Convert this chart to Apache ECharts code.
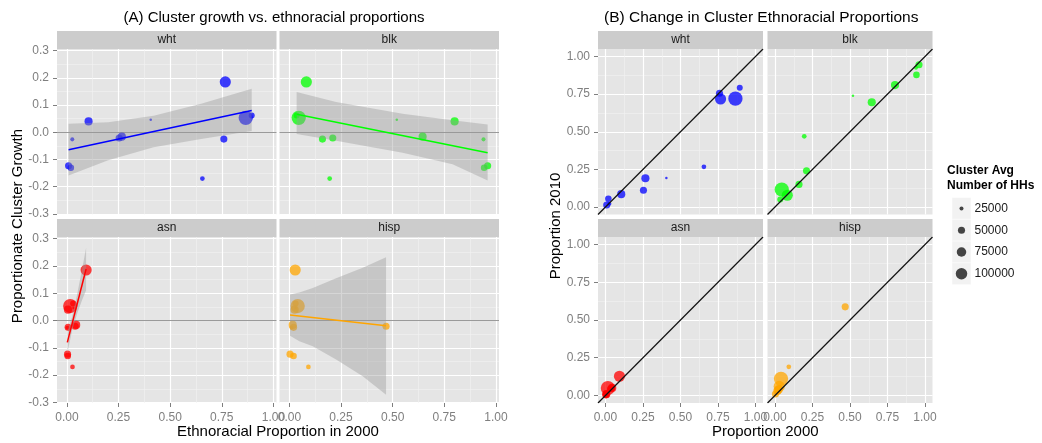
<!DOCTYPE html>
<html>
<head>
<meta charset="utf-8">
<script src="https://cdn.jsdelivr.net/npm/echarts@6/dist/echarts.min.js"></script>
<style>
  html, body { margin: 0; padding: 0; background: #ffffff; }
  #chart { width: 1042px; height: 443px; }
</style>
</head>
<body>
<div id="chart"></div>
<script>
// ---- Cluster values (one entry per cluster, same order in every array) ----
const hhSize   = [95000, 140000, 40000, 60000, 16000, 50000, 60000, 25000, 50000, 50000, 45000, 30000];
const growth   = [0.185, 0.053, 0.062, 0.040, 0.046, -0.021, -0.016, -0.026, -0.025, -0.123, -0.130, -0.170];

const wht2000  = [0.767, 0.866, 0.895, 0.105, 0.406, 0.253, 0.266, 0.026, 0.760, 0.008, 0.019, 0.656];
const wht2010  = [0.718, 0.720, 0.793, 0.085, 0.193, 0.111, 0.191, 0.022, 0.756, 0.013, 0.055, 0.267];
const blk2000  = [0.082, 0.045, 0.035, 0.800, 0.520, 0.210, 0.645, 0.940, 0.160, 0.960, 0.943, 0.195];
const blk2010  = [0.078, 0.116, 0.050, 0.810, 0.740, 0.240, 0.696, 0.925, 0.150, 0.945, 0.878, 0.470];
const asn2000  = [0.093, 0.016, 0.030, 0.005, 0.032, 0.040, 0.045, 0.002, 0.006, 0.003, 0.004, 0.027];
const asn2010  = [0.127, 0.049, 0.045, 0.008, 0.040, 0.050, 0.050, 0.004, 0.012, 0.004, 0.006, 0.040];
const hisp2000 = [0.028, 0.040, 0.030, 0.025, 0.030, 0.468, 0.016, 0.010, 0.020, 0.003, 0.020, 0.092];
const hisp2010 = [0.060, 0.110, 0.050, 0.040, 0.060, 0.587, 0.030, 0.020, 0.040, 0.010, 0.030, 0.190];

// ---- Linear fits of growth on 2000 proportion, with confidence band ----
const whtFitX   = [0.008, 0.895];
const whtFitY   = [-0.064, 0.080];
const whtBandX  = [0.008, 0.200, 0.420, 0.650, 0.895];
const whtBandLo = [-0.159, -0.103, -0.055, -0.025, 0.005];
const whtBandHi = [0.031, 0.037, 0.061, 0.105, 0.160];

const blkFitX   = [0.035, 0.960];
const blkFitY   = [0.066, -0.075];
const blkBandX  = [0.035, 0.226, 0.548, 0.790, 0.960];
const blkBandLo = [-0.006, -0.031, -0.075, -0.117, -0.177];
const blkBandHi = [0.148, 0.111, 0.068, 0.044, 0.029];

const asnFitX   = [0.002, 0.093];
const asnFitY   = [-0.080, 0.189];
const asnBandX  = [0.002, 0.025, 0.050, 0.075, 0.093];
const asnBandLo = [-0.120, -0.037, 0.027, 0.078, 0.111];
const asnBandHi = [-0.040, 0.013, 0.097, 0.194, 0.267];

const hispFitX   = [0.003, 0.468];
const hispFitY   = [0.020, -0.019];
const hispBandX  = [0.003, 0.048, 0.113, 0.226, 0.355, 0.468];
const hispBandLo = [-0.056, -0.076, -0.094, -0.143, -0.204, -0.272];
const hispBandHi = [0.095, 0.103, 0.119, 0.155, 0.193, 0.232];

// ---- Facets, ticks and legend breaks ----
const facetNames   = ['wht', 'blk', 'asn', 'hisp'];
const facetColors  = ['#0000ff', '#00ff00', '#ff0000', '#ffa500'];
const growthTicks  = [-0.3, -0.2, -0.1, 0.0, 0.1, 0.2, 0.3];
const propTicks    = [0, 0.25, 0.5, 0.75, 1];
const legendBreaks = [25000, 50000, 75000, 100000];

const facets = [
  { name: facetNames[0], p2000: wht2000,  p2010: wht2010,  fitX: whtFitX,  fitY: whtFitY,  bx: whtBandX,  lo: whtBandLo,  hi: whtBandHi },
  { name: facetNames[1], p2000: blk2000,  p2010: blk2010,  fitX: blkFitX,  fitY: blkFitY,  bx: blkBandX,  lo: blkBandLo,  hi: blkBandHi },
  { name: facetNames[2], p2000: asn2000,  p2010: asn2010,  fitX: asnFitX,  fitY: asnFitY,  bx: asnBandX,  lo: asnBandLo,  hi: asnBandHi },
  { name: facetNames[3], p2000: hisp2000, p2010: hisp2010, fitX: hispFitX, fitY: hispFitY, bx: hispBandX, lo: hispBandLo, hi: hispBandHi }
];

// ---- Layout ----
const FONT = '"Liberation Sans", Arial, Helvetica, sans-serif';
const A_LEFT = [57, 279.5], A_W = 219.5;
const B_LEFT = [598, 767.5], B_W = 165;
const ROW_TOP = [49, 237], ROW_H = [165.5, 166];
const STRIP_H = 18;

const GROWTH_RANGE = [-0.302, 0.306];
const PROP_A_RANGE = [-0.048, 1.015];
const PROP_B_RANGE = [-0.05, 1.05];

function midpoints(t) {
  const out = [];
  for (let i = 0; i < t.length - 1; i++) out.push((t[i] + t[i + 1]) / 2);
  return out;
}
const growthMinor = midpoints(growthTicks);
const propMinor = midpoints(propTicks);

// symbol diameter in px for an average household count
function dotSize(v) { return Math.max(2, 0.0475 * Math.sqrt(v) - 3.5); }

const grids = [], xAxes = [], yAxes = [], series = [], graphics = [];

function addAxes(g, xr, yr, xMajor, xMinor, yMajor, yMinor, showX, showY, xFmt, yFmt) {
  const mk = (gIdx, range, major, fmt, show, pos, margin) => ({
    type: 'value', gridIndex: gIdx, min: range[0], max: range[1], position: pos,
    axisLine: { show: false, onZero: false },
    axisTick: { show: show, length: 4, customValues: major, lineStyle: { color: '#7f7f7f', width: 1 } },
    axisLabel: { show: show, customValues: major, formatter: fmt, color: '#7f7f7f', fontSize: 12, fontFamily: FONT, margin: margin },
    splitLine: { show: true, lineStyle: { color: '#ffffff', width: 1.2 } }
  });
  const mkMinor = (gIdx, range, minor, pos) => ({
    type: 'value', gridIndex: gIdx, min: range[0], max: range[1], position: pos,
    axisLine: { show: false, onZero: false },
    axisTick: { show: false, customValues: minor },
    axisLabel: { show: false },
    splitLine: { show: true, lineStyle: { color: '#f2f2f2', width: 0.6 } }
  });
  xAxes.push(mk(g, xr, xMajor, xFmt, showX, 'bottom', 9), mkMinor(g, xr, xMinor, 'top'));
  yAxes.push(mk(g, yr, yMajor, yFmt, showY, 'left', 8), mkMinor(g, yr, yMinor, 'right'));
}

function addStrip(left, top, width, label) {
  graphics.push({
    type: 'rect', silent: true,
    shape: { x: left, y: top - STRIP_H, width: width, height: STRIP_H },
    style: { fill: '#cccccc' }
  });
  graphics.push({
    type: 'text', silent: true, x: left + width / 2, y: top - STRIP_H / 2,
    style: { text: label, font: '12px ' + FONT, fill: '#1a1a1a', textAlign: 'center', textVerticalAlign: 'middle' }
  });
}

const fmt1 = v => v.toFixed(1);
const fmt2 = v => v.toFixed(2);

// ---- Panel A: growth vs 2000 proportion ----
facets.forEach((f, i) => {
  const col = i % 2, row = Math.floor(i / 2);
  const g = grids.length;
  grids.push({ left: A_LEFT[col], top: ROW_TOP[row], width: A_W, height: ROW_H[row],
               show: true, backgroundColor: '#e5e5e5', borderWidth: 0, containLabel: false });
  addAxes(g, PROP_A_RANGE, GROWTH_RANGE, propTicks, propMinor, growthTicks, growthMinor,
          row === 1, col === 0, fmt2, fmt1);
  addStrip(A_LEFT[col], ROW_TOP[row], A_W, f.name);
  const color = facetColors[i];

  series.push({
    type: 'scatter', xAxisIndex: 2 * g, yAxisIndex: 2 * g, z: 2, silent: true,
    data: f.p2000.map((x, k) => [x, growth[k], hhSize[k]]),
    symbolSize: d => dotSize(d[2]),
    itemStyle: { color: color, opacity: 0.75 },
    markLine: {
      silent: true, symbol: 'none', z: 1, animation: false,
      label: { show: false },
      lineStyle: { color: '#9a9a9a', width: 1, type: 'solid' },
      data: [{ yAxis: 0 }]
    }
  });
  series.push({
    type: 'custom', xAxisIndex: 2 * g, yAxisIndex: 2 * g, z: 3, silent: true,
    data: f.bx.map((x, k) => [x, f.lo[k], f.hi[k]]),
    renderItem: (params, api) => {
      if (params.dataIndex !== 0) return null;
      const upper = f.bx.map((x, k) => api.coord([x, f.hi[k]]));
      const lower = f.bx.map((x, k) => api.coord([x, f.lo[k]])).reverse();
      return { type: 'polygon', shape: { points: upper.concat(lower) },
               style: { fill: 'rgba(153,153,153,0.4)' } };
    }
  });
  series.push({
    type: 'line', xAxisIndex: 2 * g, yAxisIndex: 2 * g, z: 4, silent: true,
    data: f.fitX.map((x, k) => [x, f.fitY[k]]),
    symbol: 'none', lineStyle: { color: color, width: 1.5 }
  });
});

// ---- Panel B: 2010 proportion vs 2000 proportion ----
facets.forEach((f, i) => {
  const col = i % 2, row = Math.floor(i / 2);
  const g = grids.length;
  grids.push({ left: B_LEFT[col], top: ROW_TOP[row], width: B_W, height: ROW_H[row],
               show: true, backgroundColor: '#e5e5e5', borderWidth: 0, containLabel: false });
  addAxes(g, PROP_B_RANGE, PROP_B_RANGE, propTicks, propMinor, propTicks, propMinor,
          row === 1, col === 0, fmt2, fmt2);
  addStrip(B_LEFT[col], ROW_TOP[row], B_W, f.name);

  series.push({
    type: 'scatter', xAxisIndex: 2 * g, yAxisIndex: 2 * g, z: 2, silent: true,
    data: f.p2000.map((x, k) => [x, f.p2010[k], hhSize[k]]),
    symbolSize: d => dotSize(d[2]),
    itemStyle: { color: facetColors[i], opacity: 0.75 }
  });
  // identity line y = x across the panel
  series.push({
    type: 'line', xAxisIndex: 2 * g, yAxisIndex: 2 * g, z: 4, silent: true, clip: true,
    data: [[PROP_B_RANGE[0], PROP_B_RANGE[0]], [PROP_B_RANGE[1], PROP_B_RANGE[1]]],
    symbol: 'none', lineStyle: { color: '#111111', width: 1.2 }
  });
});

// ---- Titles and axis names ----
const aCenter = (A_LEFT[0] + A_LEFT[1] + A_W) / 2;
const bCenter = (B_LEFT[0] + B_LEFT[1] + B_W) / 2;
const panelMidY = (ROW_TOP[0] + ROW_TOP[1] + ROW_H[1]) / 2;

function txt(x, y, text, size, opts) {
  return Object.assign({
    type: 'text', silent: true, x: x, y: y,
    style: { text: text, font: size + 'px ' + FONT, fill: '#000000', textAlign: 'center', textVerticalAlign: 'middle' }
  }, opts || {});
}
graphics.push(txt(aCenter - 4, 18, '(A) Cluster growth vs. ethnoracial proportions', 15));
graphics.push(txt(bCenter - 4, 18, '(B) Change in Cluster Ethnoracial Proportions', 15.5));
graphics.push(txt(aCenter, 432, 'Ethnoracial Proportion in 2000', 15));
graphics.push(txt(bCenter, 432, 'Proportion 2000', 15));
graphics.push(txt(18, panelMidY, 'Proportionate Cluster Growth', 15, { rotation: Math.PI / 2 }));
graphics.push(txt(556, panelMidY, 'Proportion 2010', 15, { rotation: Math.PI / 2 }));

// ---- Size legend ----
const LEG_X = 947, KEY_X = 952, KEY_W = 19, KEY_H = 21.8, KEY_TOP = 197.5;
graphics.push({
  type: 'text', silent: true, x: LEG_X, y: 171,
  style: { text: 'Cluster Avg', font: 'bold 12px ' + FONT, fill: '#000000', textAlign: 'left', textVerticalAlign: 'middle' }
});
graphics.push({
  type: 'text', silent: true, x: LEG_X, y: 186,
  style: { text: 'Number of HHs', font: 'bold 12px ' + FONT, fill: '#000000', textAlign: 'left', textVerticalAlign: 'middle' }
});
legendBreaks.forEach((v, k) => {
  const cy = KEY_TOP + KEY_H * k + KEY_H / 2;
  graphics.push({
    type: 'rect', silent: true,
    shape: { x: KEY_X, y: KEY_TOP + KEY_H * k, width: KEY_W, height: KEY_H },
    style: { fill: '#f2f2f2', stroke: '#ffffff', lineWidth: 0.5 }
  });
  graphics.push({
    type: 'circle', silent: true,
    shape: { cx: KEY_X + KEY_W / 2, cy: cy, r: dotSize(v) / 2 },
    style: { fill: 'rgba(0,0,0,0.72)' }
  });
  graphics.push({
    type: 'text', silent: true, x: KEY_X + KEY_W + 3.5, y: cy,
    style: { text: String(v), font: '12px ' + FONT, fill: '#1a1a1a', textAlign: 'left', textVerticalAlign: 'middle' }
  });
});

const chart = echarts.init(document.getElementById('chart'), null, { renderer: 'canvas' });
chart.setOption({
  animation: false,
  backgroundColor: '#ffffff',
  grid: grids,
  xAxis: xAxes,
  yAxis: yAxes,
  series: series,
  graphic: { elements: graphics }
});
</script>
</body>
</html>
